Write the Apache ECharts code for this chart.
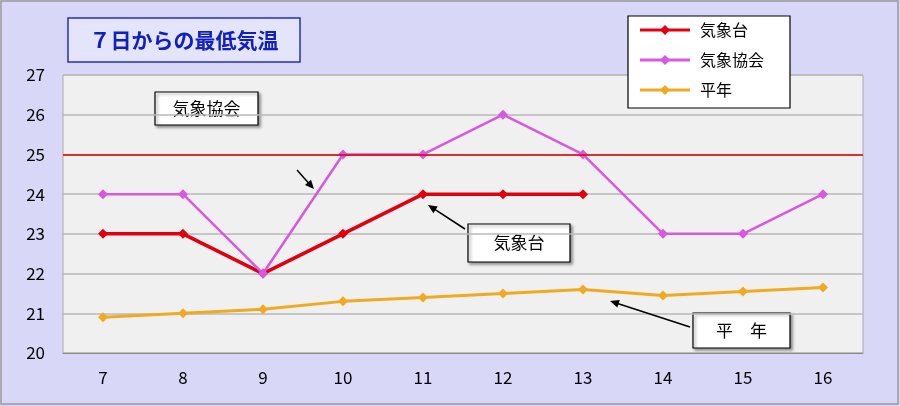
<!DOCTYPE html><html><head><meta charset="utf-8">
<script src="https://cdn.jsdelivr.net/npm/echarts@6/dist/echarts.min.js"></script>
<style>html,body{margin:0;padding:0;background:#d9d7f7}#c{width:900px;height:406px}</style></head><body><div id="c"></div>
<script>
const categories=['7','8','9','10','11','12','13','14','15','16'];
const kishoudai=[23,23,22,23,24,24,24,null,null,null];
const kyoukai=[24,24,22,25,25,26,25,23,23,24];
const heinen=[20.9,21.0,21.1,21.3,21.4,21.5,21.6,21.45,21.55,21.65];
const yTicks=[20,27,1];
const font='"Noto Sans CJK JP", sans-serif';
const c=echarts.init(document.getElementById('c'));
const arrow=(x1,y1,x2,y2)=>{const a=Math.atan2(y2-y1,x2-x1),L=9,W=4;
 return [{type:'line',shape:{x1,y1,x2:x2-Math.cos(a)*L*0.8,y2:y2-Math.sin(a)*L*0.8},style:{stroke:'#000',lineWidth:1.5},z:10},
 {type:'polygon',shape:{points:[[x2,y2],[x2-L*Math.cos(a)+W*Math.sin(a),y2-L*Math.sin(a)-W*Math.cos(a)],[x2-L*Math.cos(a)-W*Math.sin(a),y2-L*Math.sin(a)+W*Math.cos(a)]]},style:{fill:'#000'},z:10}];};
const box=(x,y,w,h,t)=>({type:'group',z:10,children:[{type:'rect',shape:{x,y,width:w,height:h},style:{fill:'#fff',stroke:'#000',lineWidth:1.2,shadowBlur:3,shadowOffsetX:2,shadowOffsetY:2,shadowColor:'rgba(0,0,0,0.4)'}},
 {type:'text',style:{x:x+w/2,y:y+h/2,text:t,align:'center',verticalAlign:'middle',font:'17px '+font,fill:'#000'}}]});
c.setOption({
 backgroundColor:'#d9d7f7',animation:false,
 grid:{left:63,right:37,top:75,bottom:53,show:true,backgroundColor:'#f0f0f0',borderColor:'#aaa',borderWidth:1},
 xAxis:{type:'category',data:categories,boundaryGap:true,axisTick:{show:false},axisLine:{lineStyle:{color:'#888'}},axisLabel:{color:'#000',fontSize:17,fontFamily:font,margin:16}},
 yAxis:{type:'value',min:yTicks[0],max:yTicks[1],interval:yTicks[2],axisLabel:{color:'#000',fontSize:17,fontFamily:font,margin:18},splitLine:{lineStyle:{color:'#b8b8b8',width:1.5}},axisLine:{show:false}},
 legend:{show:false},
 series:[
  {name:'気象台',type:'line',data:kishoudai,color:'#e00010',symbol:'diamond',symbolSize:10,lineStyle:{width:3.5},
   markLine:{silent:true,symbol:'none',label:{show:false},lineStyle:{color:'#e00000',width:1.5,type:'solid'},data:[{yAxis:25}]}},
  {name:'気象協会',type:'line',data:kyoukai,color:'#d858e0',symbol:'diamond',symbolSize:10,lineStyle:{width:2.5}},
  {name:'平年',type:'line',data:heinen,color:'#f0aa20',symbol:'diamond',symbolSize:10,lineStyle:{width:3}}
 ],
 graphic:[
  {type:'rect',shape:{x:1,y:1,width:897,height:403},style:{fill:'none',stroke:'#999',lineWidth:1.5}},
  {type:'rect',shape:{x:68,y:18,width:232,height:44},style:{fill:'#e4e4fb',stroke:'#2030c0',lineWidth:1.5},z:10},
  {type:'text',style:{x:184,y:40,text:'７日からの最低気温',align:'center',verticalAlign:'middle',font:'bold 21px '+font,fill:'#1020c0'},z:11},
  {type:'rect',shape:{x:628,y:16,width:162,height:92},style:{fill:'#fff',stroke:'#000',lineWidth:1.2},z:10},
  ...[['気象台','#e00010',30],['気象協会','#d858e0',60],['平年','#f0aa20',90]].flatMap(([t,col,y])=>[
   {type:'line',shape:{x1:640,y1:y,x2:690,y2:y},style:{stroke:col,lineWidth:3},z:11},
   {type:'polygon',shape:{points:[[665,y-5],[670,y],[665,y+5],[660,y]]},style:{fill:col},z:11},
   {type:'text',style:{x:700,y:y,text:t,verticalAlign:'middle',font:'16px '+font,fill:'#000'},z:11}]),
  box(155,92,103,33,'気象協会'),box(468,224,102,38,'気象台'),box(693,313,97,35,'平　年'),
  ...arrow(297,170,314,189),...arrow(465,229,428,205),...arrow(690,327,610,301)
 ]
});
</script></body></html>
